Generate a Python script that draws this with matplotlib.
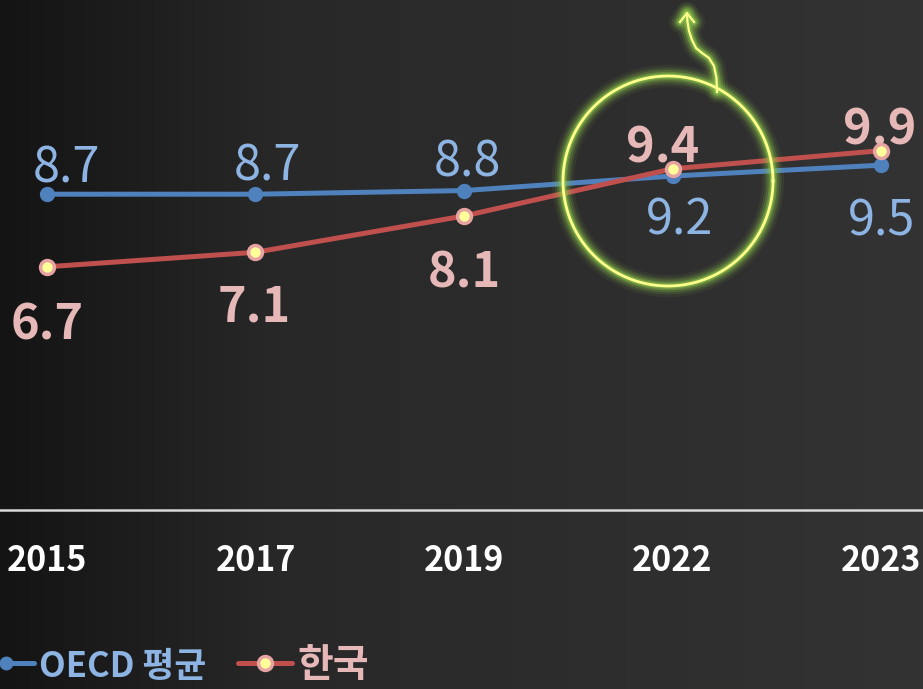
import numpy as np
import matplotlib.pyplot as plt
from matplotlib.colors import LinearSegmentedColormap

years = ['2015', '2017', '2019', '2022', '2023']
oecd = [8.7, 8.7, 8.8, 9.2, 9.5]
korea = [6.7, 7.1, 8.1, 9.4, 9.9]

# label offsets in pixels (dx, dy)
oecd_off = [(19, 31), (12, 33), (3, 33), (7, -39), (1, -51)]
korea_off = [(0, -53), (-1, -50), (0, -52), (-10, 26), (-1, 26)]

KR = ['Noto Sans CJK KR', 'DejaVu Sans']

W, H = 923, 689
fig = plt.figure(figsize=(W / 100, H / 100), dpi=100)

# background gradient
bg = fig.add_axes([0, 0, 1, 1])
cmap = LinearSegmentedColormap.from_list('bg', [(0, '#141414'), (0.3, '#282828'), (1, '#333333')])
bg.imshow(np.linspace(0, 1, 256)[None, :], aspect='auto', cmap=cmap, extent=[0, 1, 0, 1])
bg.axis('off')

ax = fig.add_axes([0, 1 - 510 / H, 1, 510 / H])
ax.patch.set_alpha(0)
x = np.arange(len(years))
ax.plot(x, oecd, color='#4F81BD', lw=3.6, marker='o', ms=10, mfc='#4F81BD', mec='#4F81BD', zorder=3)
ax.plot(x, korea, color='#C0504D', lw=3.6, marker='o', ms=10, mfc='#FFFF99', mec='#E6A3A2', mew=2.5, zorder=4)

for i, v in enumerate(oecd):
    ax.annotate(f'{v:.1f}', (x[i], v), xytext=oecd_off[i], textcoords='offset pixels',
                ha='center', va='center_baseline', fontsize=35, fontweight=500,
                color='#8DB4E2', family=KR)
for i, v in enumerate(korea):
    ax.annotate(f'{v:.1f}', (x[i], v), xytext=korea_off[i], textcoords='offset pixels',
                ha='center', va='center_baseline', fontsize=35, color='#E6B9B8', fontweight='bold',
                family=KR)

ax.set_xlim(-0.2254, 4.2014)
ax.set_ylim(0, 14.05)
for s in ['top', 'left', 'right']:
    ax.spines[s].set_visible(False)
ax.spines['bottom'].set_color('#D9D9D9')
ax.spines['bottom'].set_linewidth(1.8)
ax.set_yticks([])
ax.set_xticks(x)
ax.set_xticklabels(years, fontsize=24.5, fontweight='bold', color='white', family=KR)
ax.tick_params(axis='x', length=0, pad=24)
ax.get_xticklabels()[-1].set_x(3.985)

# overlay in pixel coordinates for the highlight and legend
ov = fig.add_axes([0, 0, 1, 1])
ov.set_xlim(0, W)
ov.set_ylim(H, 0)
ov.axis('off')
ov.patch.set_alpha(0)

t = np.linspace(0, 2 * np.pi, 300)
cx, cy, r = 668, 181, 105
ax_c = cx + r * np.cos(t)
ay_c = cy + r * np.sin(t)
arrow_x = [717, 716.5, 714, 709, 702, 696, 692, 689, 687.5, 687]
arrow_y = [92, 78, 66, 58, 53, 48, 40, 31, 22, 14]
head_x = [680, 687, 694]
head_y = [22, 13, 22]
for lw, a in [(16, 0.08), (12, 0.14), (9, 0.22), (6, 0.35), (4, 0.5)]:
    ov.plot(ax_c, ay_c, color='#8BC34A', lw=lw, alpha=a, solid_capstyle='round')
    ov.plot(arrow_x, arrow_y, color='#8BC34A', lw=lw, alpha=a, solid_capstyle='round')
    ov.plot(head_x, head_y, color='#8BC34A', lw=lw, alpha=a, solid_capstyle='round')
ov.plot(ax_c, ay_c, color='#FFFF8C', lw=2)
ov.plot(arrow_x, arrow_y, color='#FFFF8C', lw=1.6)
ov.plot(head_x, head_y, color='#FFFF8C', lw=1.6)

# legend
ov.plot([3, 34], [663, 663], color='#4F81BD', lw=3.6, solid_capstyle='round')
ov.plot([6], [663], marker='o', ms=9, color='#4F81BD')
ov.text(39, 667, 'OECD 평균', fontsize=25, fontweight='bold', color='#8DB4E2',
        ha='left', va='center', family=KR)
ov.plot([238, 292], [663, 663], color='#C0504D', lw=3.6, solid_capstyle='round')
ov.plot([265], [663], marker='o', ms=10, mfc='#FFFF99', mec='#E6A3A2', mew=2.5)
ov.text(297, 665, '한국', fontsize=28, fontweight='bold', color='#E6B9B8',
        ha='left', va='center', family=KR)

fig.savefig('out.png', dpi=100)
